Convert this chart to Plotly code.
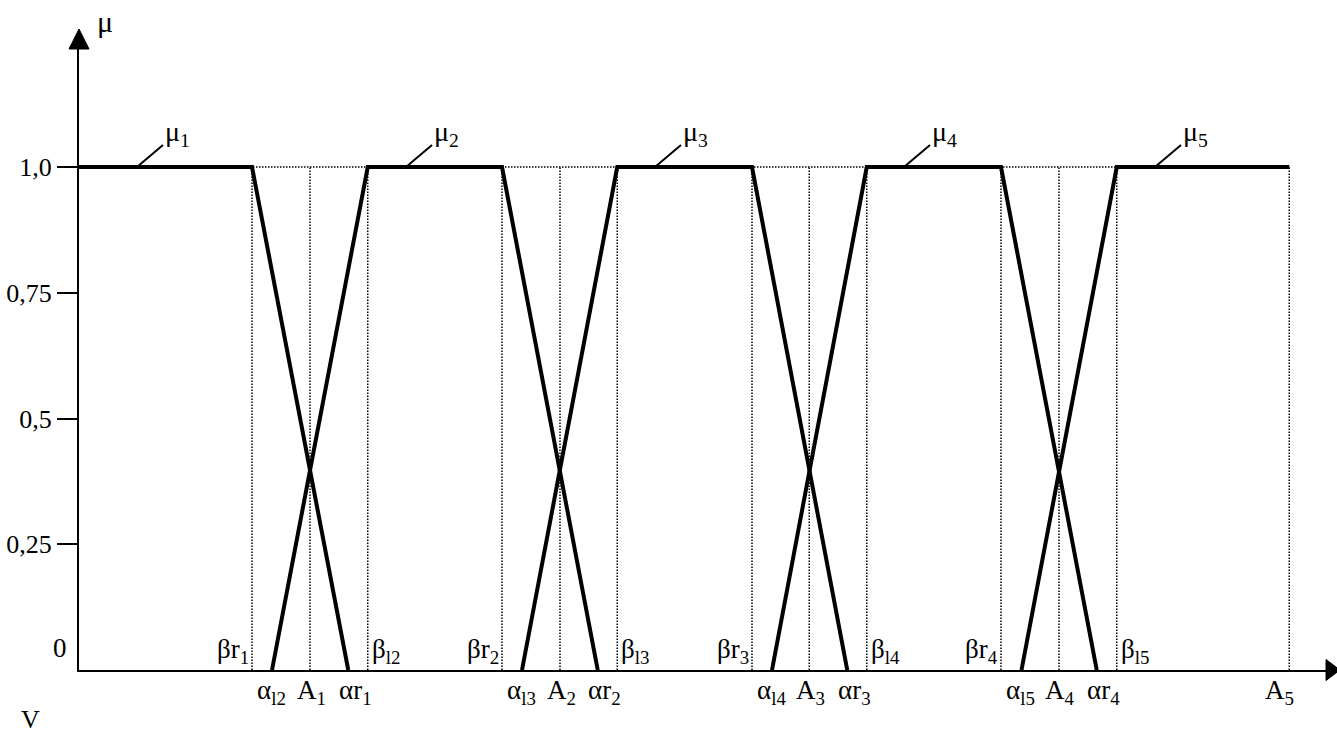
import plotly.graph_objects as go

# Break points along the universe V (1 unit = one tenth of a term period)
beta_r = [6.92, 16.92, 26.92, 36.88]      # βr1..βr4 (end of plateau, right side)
alpha_l = [7.72, 17.72, 27.72, 37.70]     # αl2..αl5 (foot, left side)
A_pts = [9.24, 19.24, 29.21, 39.20, 48.41]  # A1..A5
alpha_r = [10.77, 20.75, 30.73, 40.71]    # αr1..αr4 (foot, right side)
beta_l = [11.55, 21.53, 31.51, 41.51]     # βl2..βl5 (start of plateau, left side)
mu_label_x = [2.32, 13.08, 23.04, 33.0, 43.04]   # where μ-label leaders touch the plateau

y_ticks = [0.25, 0.5, 0.75, 1.0]
y_tick_text = ["0,25", "0,5", "0,75", "1,0"]

X_MAX = 49.88
Y_MAX = 1.2545
FONT = "Liberation Serif, Times New Roman, serif"

fig = go.Figure()

# dotted guides: verticals at βr, A, βl and the level μ = 1
vx, vy = [], []
for xs in (beta_r, A_pts, beta_l):
    for x in xs:
        vx += [x, x, None]
        vy += [0, 1, None]
vx += [0, A_pts[-1]]
vy += [1, 1]
fig.add_trace(go.Scatter(x=vx, y=vy, mode="lines",
                         line=dict(color="black", width=1.5, dash="1.5px,1.5px"),
                         hoverinfo="skip", showlegend=False))

# membership functions
terms = []
terms.append(([0, beta_r[0], alpha_r[0]], [1, 1, 0]))
for k in range(3):
    terms.append(([alpha_l[k], beta_l[k], beta_r[k + 1], alpha_r[k + 1]], [0, 1, 1, 0]))
terms.append(([alpha_l[3], beta_l[3], A_pts[4]], [0, 1, 1]))
for xs, ys in terms:
    fig.add_trace(go.Scatter(x=xs, y=ys, mode="lines",
                             line=dict(color="black", width=4),
                             hoverinfo="skip", showlegend=False))

ann = []
# μ labels with leaders
for i, x in enumerate(mu_label_x):
    ann.append(dict(x=x, y=1, xref="x", yref="y", text=f"μ<sub>{i+1}</sub>",
                    showarrow=True, arrowhead=0, arrowwidth=2, arrowcolor="black",
                    ax=40, ay=-34, font=dict(family=FONT, size=28, color="black")))

lab_font = dict(family=FONT, size=27, color="black")
# labels below the axis
for i, x in enumerate(alpha_l):
    ann.append(dict(x=x, y=0, xref="x", yref="y", text=f"α<sub>l{i+2}</sub>",
                    showarrow=False, yanchor="middle", yshift=-22, xshift=-1, font=lab_font))
for i, x in enumerate(A_pts):
    ann.append(dict(x=x, y=0, xref="x", yref="y", text=f"A<sub>{i+1}</sub>",
                    showarrow=False, yanchor="middle", yshift=-22,
                    xshift=(-10 if i == 4 else 1), font=lab_font))
for i, x in enumerate(alpha_r):
    ann.append(dict(x=x, y=0, xref="x", yref="y", text=f"αr<sub>{i+1}</sub>",
                    showarrow=False, yanchor="middle", yshift=-22, xshift=7, font=lab_font))
# labels above the axis
for i, x in enumerate(beta_r):
    ann.append(dict(x=x, y=0, xref="x", yref="y", text=f"βr<sub>{i+1}</sub>",
                    showarrow=False, xanchor="right", yanchor="middle",
                    yshift=19, xshift=-1, font=lab_font))
for i, x in enumerate(beta_l):
    ann.append(dict(x=x, y=0, xref="x", yref="y", text=f"β<sub>l{i+2}</sub>",
                    showarrow=False, xanchor="left", yanchor="middle",
                    yshift=19, xshift=2, font=lab_font))

# "0", axis titles
ann.append(dict(x=0, y=0, xref="x", yref="y", text="0", showarrow=False,
                xanchor="right", yanchor="middle", xshift=-10, yshift=22,
                font=dict(family=FONT, size=27, color="black")))
ann.append(dict(x=0.0209, y=1.027, xref="paper", yref="paper", text="μ", showarrow=False,
                xanchor="center", yanchor="middle",
                font=dict(family=FONT, size=30, color="black")))
ann.append(dict(x=-0.039, y=-0.078, xref="paper", yref="paper", text="V", showarrow=False,
                xanchor="center", yanchor="middle",
                font=dict(family=FONT, size=26, color="black")))

shapes = [
    # y-axis arrowhead
    dict(type="path", xref="paper", yref="paper", xsizemode="pixel", ysizemode="pixel",
         xanchor=0, yanchor=1, path="M-10,-10 L10,-10 L0,10 Z",
         fillcolor="black", line=dict(color="black", width=1)),
    # x-axis arrowhead
    dict(type="path", xref="paper", yref="paper", xsizemode="pixel", ysizemode="pixel",
         xanchor=1, yanchor=0, path="M0,-10.5 L0,10.5 L14,0 Z",
         fillcolor="black", line=dict(color="black", width=1)),
]

fig.update_layout(
    width=1337, height=733,
    margin=dict(l=79, r=11, t=39, b=63),
    paper_bgcolor="white", plot_bgcolor="white",
    showlegend=False,
    annotations=ann, shapes=shapes,
    xaxis=dict(range=[0, X_MAX], showline=True, linecolor="black", linewidth=2,
               showgrid=False, zeroline=False, showticklabels=False, ticks="",
               automargin=False),
    yaxis=dict(range=[0, Y_MAX], showline=True, linecolor="black", linewidth=2,
               showgrid=False, zeroline=False, ticks="outside", ticklen=20,
               tickwidth=2, tickcolor="black", tickvals=y_ticks, ticktext=y_tick_text,
               tickfont=dict(family=FONT, size=26, color="black"), automargin=False),
)

fig.write_html("out.html",
               config={"displayModeBar": False},
               post_script="document.body.style.margin='0px';"
                           "document.body.style.overflow='hidden';")
